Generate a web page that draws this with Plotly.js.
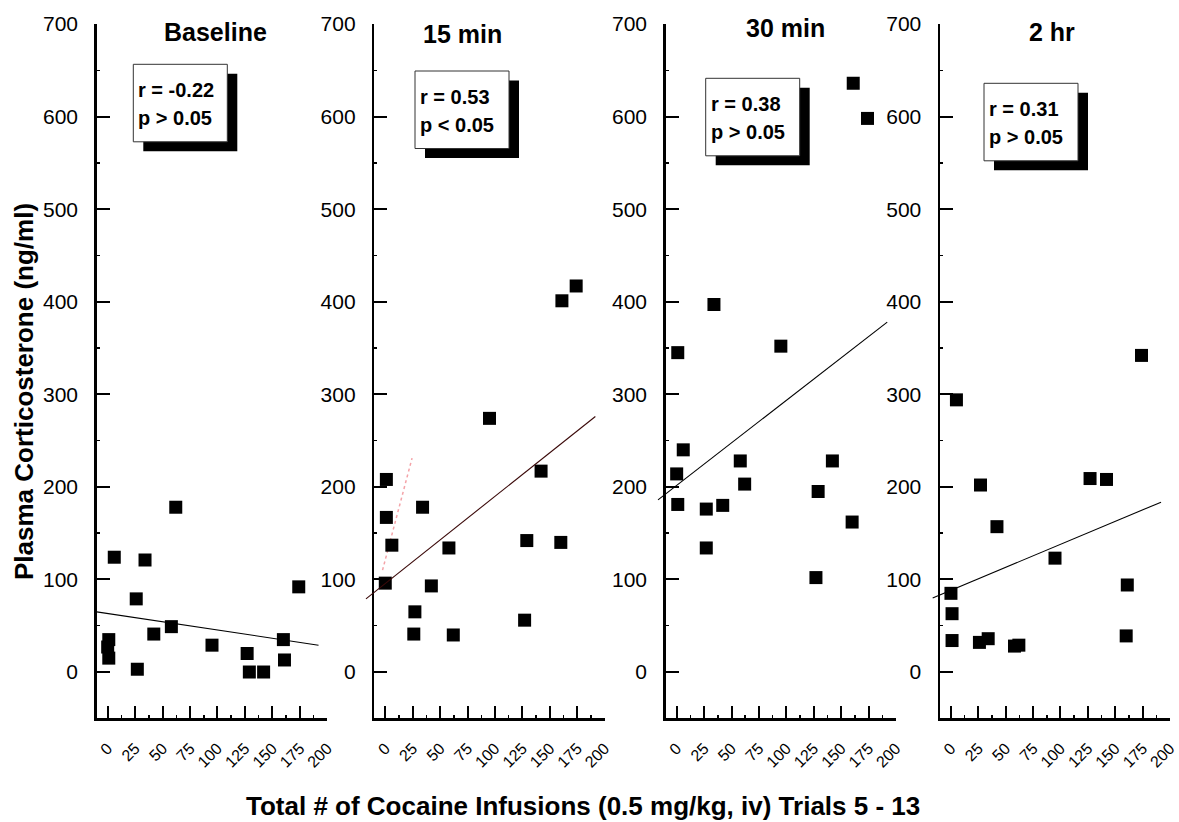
<!DOCTYPE html>
<html><head><meta charset="utf-8">
<script src="https://cdn.plot.ly/plotly-3.0.1.min.js"></script>
<style>html,body{margin:0;padding:0;background:#fff}#chart{width:1179px;height:822px}</style>
</head><body><div id="chart"></div>
<script>
// ---- data ----
const panelTitles = ["Baseline", "15 min", "30 min", "2 hr"];
const statR = ["r = -0.22", "r = 0.53", "r = 0.38", "r = 0.31"];
const statP = ["p > 0.05", "p < 0.05", "p > 0.05", "p > 0.05"];
const xTickVals = [0, 25, 50, 75, 100, 125, 150, 175, 200];
const yTickVals = [0, 100, 200, 300, 400, 500, 600, 700];

const base_x = [62, 6, 34, 26, 58, 42, 1, 0, 1, 27, 95, 127, 129, 142, 160, 161, 174];
const base_y = [178, 124, 121, 79, 49, 41, 35, 27, 15, 3, 29, 20, 0, 0, 35, 13, 92];
const m15_x = [1, 1, 6, 0, 34, 27, 26, 42, 58, 62, 95, 142, 129, 127, 160, 161, 174];
const m15_y = [208, 167, 137, 96, 178, 65, 41, 93, 134, 40, 274, 217, 142, 56, 140, 401, 417];
const m30_x = [161, 174, 34, 1, 95, 6, 0, 1, 27, 27, 42, 58, 62, 129, 127, 142, 160];
const m30_y = [636, 598, 397, 345, 352, 240, 214, 181, 176, 134, 180, 228, 203, 195, 102, 228, 162];
const h2_x = [0, 1, 1, 26, 34, 58, 62, 27, 42, 95, 127, 5, 142, 174, 161, 160];
const h2_y = [85, 63, 34, 32, 36, 28, 29, 202, 157, 123, 209, 294, 208, 342, 94, 39];

const base_fit_x = [-10, 192];   const base_fit_y = [65, 29];
const m15_fit_x = [-17.6, 191.5]; const m15_fit_y = [79, 276];
const m30_fit_x = [-17, 192];    const m30_fit_y = [186, 378];
const h2_fit_x = [-16.7, 191.8]; const h2_fit_y = [80, 183.5];
const m15_stray_x = [-2.5, 24.4]; const m15_stray_y = [110, 231];

// ---- layout helpers ----
const W = 1179, H = 822;
const px = v => v / W;
const py = v => 1 - v / H;
const FONT = "Arial, 'Liberation Sans', sans-serif";

const X_MIN = -10, X_MAX = 200;
const xDomains = [[96.7, 327.3], [374.3, 604.7], [665.7, 896], [940, 1170]];
const yDomain = [py(718.3), py(24)];
const titlePos = [[215.5, 31.7], [462, 34], [785, 28], [1052, 32.5]];
const boxPos = [[133.3, 64.3], [415, 71], [705.7, 78.3], [984, 83.3]];
const boxW = 94, boxH = 77.5, shOff = [10, 9.5];
const fitExtendPx = 12;  // fit lines run slightly past the y axis, as in the original

const seriesX = [base_x, m15_x, m30_x, h2_x];
const seriesY = [base_y, m15_y, m30_y, h2_y];
const fitX = [base_fit_x, m15_fit_x, m30_fit_x, h2_fit_x];
const fitY = [base_fit_y, m15_fit_y, m30_fit_y, h2_fit_y];
const fitColor = ["#000000", "#3a0808", "#000000", "#000000"];

const traces = [];
const layout = {
  width: W, height: H, showlegend: false,
  margin: {l: 0, r: 0, t: 0, b: 0},
  paper_bgcolor: "#fff", plot_bgcolor: "rgba(0,0,0,0)",
  font: {family: FONT, color: "#000"},
  shapes: [], annotations: []
};

for (let i = 0; i < 4; i++) {
  const sx = i === 0 ? "" : String(i + 1);
  const xa = "x" + sx, ya = "y" + sx;
  const fx = String(i + 5); // overlay x axis for the fit line
  const [d0, d1] = xDomains[i];
  const pxPerUnit = (d1 - d0) / (X_MAX - X_MIN);

  traces.push({x: fitX[i], y: fitY[i], xaxis: "x" + fx, yaxis: ya, mode: "lines",
    line: {color: fitColor[i], width: 1.1}, hoverinfo: "skip"});
  if (i === 1) {
    traces.push({x: m15_stray_x, y: m15_stray_y, xaxis: xa, yaxis: ya, mode: "lines",
      line: {color: "#f4a3a8", width: 1.5, dash: "dot"}, hoverinfo: "skip"});
  }
  traces.push({x: seriesX[i], y: seriesY[i], xaxis: xa, yaxis: ya, mode: "markers",
    marker: {symbol: "square", size: 13, color: "#000", line: {width: 0}}, cliponaxis: false});

  layout["xaxis" + sx] = {
    domain: [px(d0), px(d1)], anchor: ya,
    range: [X_MIN, X_MAX], tickmode: "array", tickvals: xTickVals,
    ticks: "inside", ticklen: 12, tickwidth: 2, tickcolor: "#000",
    showline: true, linewidth: 2.5, linecolor: "#000", mirror: false,
    showgrid: false, zeroline: false, tickangle: -45, ticklabelstandoff: 12,
    ticklabeloverflow: "allow",
    tickfont: {family: FONT, size: 16, color: "#000"},
    minor: {ticks: "inside", ticklen: 3, tickwidth: 1.5, tickcolor: "#000", dtick: 12.5, tick0: 12.5, showgrid: false}
  };
  layout["xaxis" + fx] = {
    domain: [px(d0 - fitExtendPx), px(d1)], anchor: ya, visible: false,
    range: [X_MIN - fitExtendPx / pxPerUnit, X_MAX], fixedrange: true
  };
  layout["yaxis" + sx] = {
    domain: yDomain, anchor: xa,
    range: [-50, 700], tickmode: "array", tickvals: yTickVals,
    ticks: "inside", ticklen: 13, tickwidth: 2, tickcolor: "#000",
    showline: true, linewidth: 2.5, linecolor: "#000", mirror: false,
    showgrid: false, zeroline: false, ticklabelstandoff: 12,
    tickfont: {family: FONT, size: 21, color: "#000"},
    minor: {ticks: "inside", ticklen: 3, tickwidth: 1.5, tickcolor: "#000", dtick: 50, tick0: 50, showgrid: false}
  };

  // stats box with drop shadow
  const [bx, by] = boxPos[i];
  layout.shapes.push({type: "rect", xref: "paper", yref: "paper", layer: "above",
    x0: px(bx + shOff[0]), x1: px(bx + shOff[0] + boxW), y0: py(by + shOff[1] + boxH), y1: py(by + shOff[1]),
    fillcolor: "#000", line: {width: 0}});
  layout.shapes.push({type: "rect", xref: "paper", yref: "paper", layer: "above",
    x0: px(bx), x1: px(bx + boxW), y0: py(by + boxH), y1: py(by),
    fillcolor: "#fff", line: {color: "#333", width: 1}});
  layout.annotations.push({xref: "paper", yref: "paper", x: px(bx + 3), y: py(by + 26),
    xanchor: "left", yanchor: "middle", showarrow: false, text: "<b>" + statR[i] + "</b>",
    font: {family: FONT, size: 20, color: "#000"}});
  layout.annotations.push({xref: "paper", yref: "paper", x: px(bx + 3), y: py(by + 54),
    xanchor: "left", yanchor: "middle", showarrow: false, text: "<b>" + statP[i] + "</b>",
    font: {family: FONT, size: 20, color: "#000"}});
  // panel title
  layout.annotations.push({xref: "paper", yref: "paper", x: px(titlePos[i][0]), y: py(titlePos[i][1]),
    xanchor: "center", yanchor: "middle", showarrow: false, text: "<b>" + panelTitles[i] + "</b>",
    font: {family: FONT, size: 25, color: "#000"}});
}

layout.annotations.push({xref: "paper", yref: "paper", x: px(24), y: py(392), textangle: -90,
  xanchor: "center", yanchor: "middle", showarrow: false,
  text: "<b>Plasma Corticosterone (ng/ml)</b>", font: {family: FONT, size: 26, color: "#000"}});
layout.annotations.push({xref: "paper", yref: "paper", x: px(583), y: py(806),
  xanchor: "center", yanchor: "middle", showarrow: false,
  text: "<b>Total # of Cocaine Infusions (0.5 mg/kg, iv) Trials 5 - 13</b>", font: {family: FONT, size: 26, color: "#000"}});

Plotly.newPlot("chart", traces, layout, {staticPlot: true, displayModeBar: false});
</script></body></html>
